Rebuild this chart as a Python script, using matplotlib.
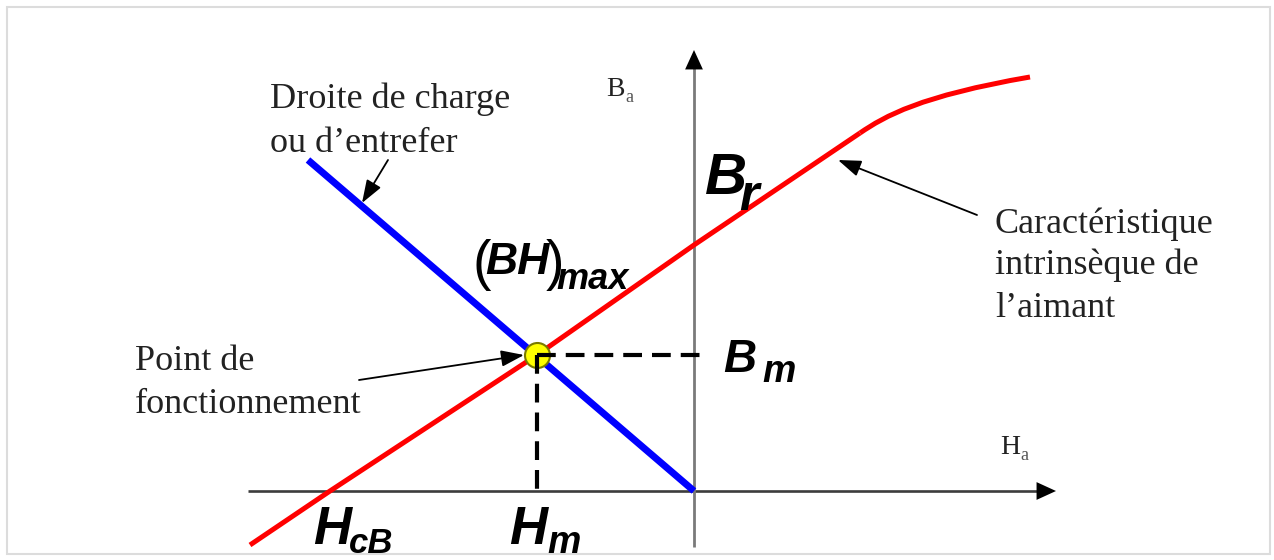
"""Droite de charge et caractéristique intrinsèque d'un aimant permanent.

Le point de fonctionnement (Hm, Bm) est l'intersection de la droite de
charge (bleue) et de la caractéristique B(H) de l'aimant (rouge).
Unités du schéma : origine au croisement des axes, unités arbitraires.
"""
import matplotlib.pyplot as plt
from matplotlib.patches import PathPatch, Rectangle
from matplotlib.path import Path

# ---------- données du schéma ----------
# caractéristique intrinsèque de l'aimant : partie linéaire ...
aimant_h = [-4.44, -3.64, -1.57, 0.00, 1.66]
aimant_b = [-0.54, 0.00, 1.36, 2.46, 3.58]
# ... puis coude (points de contrôle de Bézier cubique)
coude_h = [1.66, 1.91, 2.26, 3.36]
coude_b = [3.58, 3.75, 3.95, 4.14]

# droite de charge (passe par l'origine)
charge_h = [-3.86, 0.00]
charge_b = [3.31, 0.00]

# point de fonctionnement
H_M, B_M = -1.57, 1.36

# étendue des axes
H_AXE = (-4.46, 3.62)
B_AXE = (-0.56, 4.41)

SERIF = ["Liberation Serif", "DejaVu Serif"]
SANS = ["Liberation Sans", "DejaVu Sans"]

fig = plt.figure(figsize=(12.74, 5.6), dpi=100)
ax = fig.add_axes([0, 0, 1, 1])
ax.set_xlim(-6.94, 5.80)
ax.set_ylim(-0.69, 4.91)
ax.axis("off")

# cadre gris clair autour du schéma
ax.add_patch(Rectangle((-6.87, -0.63), 12.63, 5.47, fill=False,
                       edgecolor="#dcdcdc", linewidth=1.5, zorder=0))

# ---------- axes H et B ----------
ax.plot([H_AXE[0], H_AXE[1] - 0.15], [0, 0], color="#3c3c3c", lw=1.9,
        solid_capstyle="butt", zorder=1)
ax.plot([0, 0], [B_AXE[0], B_AXE[1] - 0.15], color="#7a7a7a", lw=2.0,
        solid_capstyle="butt", zorder=1)
head = dict(arrowstyle="-|>,head_length=0.7,head_width=0.32",
            mutation_scale=20, color="black", lw=0, shrinkA=0, shrinkB=0)
ax.annotate("", xy=(H_AXE[1], 0), xytext=(H_AXE[1] - 0.25, 0),
            arrowprops=head, zorder=2)
ax.annotate("", xy=(0, B_AXE[1]), xytext=(0, B_AXE[1] - 0.25),
            arrowprops=head, zorder=2)

# ---------- courbes ----------
rouge = dict(color="#ff0000", lw=3.6, zorder=3)
ax.plot(aimant_h, aimant_b, solid_joinstyle="round",
        solid_capstyle="butt", **rouge)
coude = Path(list(zip(coude_h, coude_b)),
             [Path.MOVETO, Path.CURVE4, Path.CURVE4, Path.CURVE4])
ax.add_patch(PathPatch(coude, fill=False, edgecolor=rouge["color"],
                       lw=rouge["lw"], capstyle="butt", zorder=3))

ax.plot(charge_h, charge_b, color="#0000ff", lw=5.0,
        solid_capstyle="butt", zorder=3)

ax.plot(H_M, B_M, "o", ms=18, mfc="#ffff00", mec="#7a7a00", mew=1.5,
        zorder=4)

# projections en pointillés
dash = dict(color="black", lw=3.0, dashes=(4.5, 2.4), zorder=5)
ax.plot([H_M, 0.12], [B_M, B_M], **dash)
ax.plot([H_M, H_M], [B_M, 0], **dash)

# ---------- flèches d'annotation ----------
fl = dict(arrowstyle="-|>,head_length=0.7,head_width=0.25",
          mutation_scale=20, color="black", lw=1.3, shrinkA=0, shrinkB=0)
ax.annotate("", xy=(-3.32, 2.88), xytext=(-3.06, 3.31), arrowprops=fl,
            zorder=6)
ax.annotate("", xy=(1.44, 3.31), xytext=(2.83, 2.76), arrowprops=fl,
            zorder=6)
ax.annotate("", xy=(-1.70, 1.36), xytext=(-3.35, 1.11), arrowprops=fl,
            zorder=6)

# ---------- textes (Times) ----------
serif = dict(family=SERIF, fontsize=26, color="#222222", va="baseline",
             ha="left")
ax.text(-4.24, 3.83, "Droite de charge", **serif)
ax.text(-4.24, 3.39, "ou d\u2019entrefer", **serif)
ax.text(-5.59, 1.21, "Point de", **serif)
ax.text(-5.59, 0.78, "fonctionnement", **serif)
ax.text(3.01, 2.58, "Caract\u00e9ristique", **serif)
ax.text(3.01, 2.17, "intrins\u00e8que de", **serif)
ax.text(3.01, 1.74, "l\u2019aimant", **serif)

ax.text(-0.88, 3.95, "B", family=SERIF, fontsize=20, color="#222222",
        va="baseline")
ax.text(-0.69, 3.89, "a", family=SERIF, fontsize=13, color="#555555",
        va="baseline")
ax.text(3.06, 0.37, "H", family=SERIF, fontsize=20, color="#222222",
        va="baseline")
ax.text(3.26, 0.31, "a", family=SERIF, fontsize=13, color="#555555",
        va="baseline")

# ---------- grandeurs caractéristiques (Arial gras italique) ----------
gras = dict(family=SANS, fontweight="bold", fontstyle="italic",
            color="black", va="baseline", ha="left")
ax.text(0.11, 2.97, "B", fontsize=42, **gras)
ax.text(0.45, 2.81, "r", fontsize=36, **gras)

ax.text(-2.22, 2.12, "(", family=SANS, fontsize=40, color="black",
        va="baseline")
ax.text(-2.09, 2.17, "BH", fontsize=32, **gras)
ax.text(-1.48, 2.12, ")", family=SANS, fontsize=40, color="black",
        va="baseline")
ax.text(-1.38, 2.02, "max", fontsize=26, **gras)

ax.text(0.29, 1.19, "B", fontsize=33, **gras)
ax.text(0.68, 1.09, "m", fontsize=27, **gras)

ax.text(-3.81, -0.53, "H", fontsize=38, **gras)
ax.text(-3.45, -0.62, "cB", fontsize=25, **gras)

ax.text(-1.85, -0.53, "H", fontsize=38, **gras)
ax.text(-1.47, -0.62, "m", fontsize=27, **gras)

fig.savefig("out.png", dpi=100)
